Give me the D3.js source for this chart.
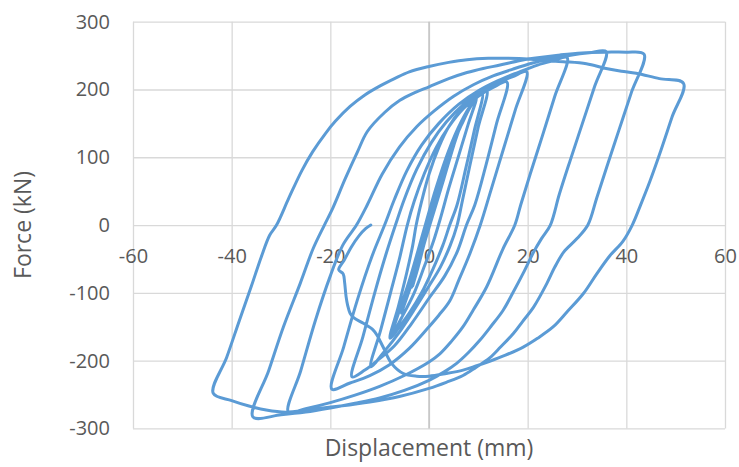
<!DOCTYPE html>
<html>
<head>
<meta charset="utf-8">
<script src="https://cdn.jsdelivr.net/npm/d3@7"></script>
<style>
  body { margin: 0; background: #fff; }
  svg text { font-family: "Open Sans", sans-serif; fill: #595959; }
</style>
</head>
<body>
<svg id="chart" width="739" height="467"></svg>
<script>
// ---------------------------
// Force - displacement hysteresis (cyclic test)
// ---------------------------

// tick values
const xTicks = [-60, -40, -20, 0, 20, 40, 60];
const yTicks = [-300, -200, -100, 0, 100, 200, 300];

// [displacement (mm), force (kN)], in test order
const smallCycles = [
  [0, 0], [1, 30], [2, 58], [3, 84], [4.2, 110], [3, 82], [1.5, 44], [0, 8], [-1, -25], [-2, -56], [-3.4, -92],
  [-2.2, -62], [-1, -28], [0.5, 15], [2, 55], [3.5, 92], [5, 124], [6.6, 152], [5, 117], [3, 68], [1, 20],
  [-0.5, -16], [-2, -52], [-3.6, -88], [-5.6, -130], [-4, -94], [-2.4, -54], [-1, -16], [0.6, 26], [2.6, 76],
  [4.6, 116], [6.6, 148], [8.2, 172], [9.6, 187], [8, 150], [6, 102], [4, 54], [2.4, 12], [0.9, -24], [-1, -62],
  [-3, -100], [-5.5, -136], [-7.6, -163], [-6, -126], [-4, -82], [-2.2, -37], [-0.6, 4], [1.4, 54], [4, 110],
  [6.5, 152], [8.8, 180], [10.8, 194]
];
const down11 = [[10.8, 194], [9.2, 140], [7.5, 85], [5.7, 30], [4.2, 0], [2.8, -30], [0.8, -65], [-1.5, -100], [-4, -130], [-6, -150], [-7.9, -167]];
const up12 = [[-7.9, -167], [-6.2, -120], [-4.5, -70], [-3.3, -30], [-2.6, 0], [-1.5, 35], [0, 75], [2, 115], [4, 145], [6.5, 170], [9, 187], [11.7, 199]];
const down12 = [[11.7, 199], [10, 145], [8.2, 85], [6.6, 30], [5.7, 0], [4.3, -30], [2.3, -62], [0, -90], [-3, -125], [-6, -158], [-9, -186], [-11.8, -209]];
const up16 = [[-11.8, -209], [-9.8, -155], [-7.8, -100], [-6, -50], [-4.4, 0], [-3, 35], [-1, 75], [1.5, 115], [4, 145], [7, 172], [10, 190], [13, 203], [15.8, 211]];
const down16 = [[15.8, 211], [13.7, 150], [11.6, 90], [9.3, 30], [7.6, 0], [5.8, -38], [3.2, -75], [0, -108], [-3.5, -145], [-7, -178], [-10.5, -200], [-13, -214], [-15.6, -224]];
const up20 = [[-15.6, -224], [-13.4, -165], [-11, -100], [-8.8, -45], [-6.8, 0], [-5, 38], [-2.5, 82], [0.5, 122], [3.5, 152], [7, 178], [10.5, 196], [14, 210], [17, 219], [19.8, 226]];
const down20 = [[19.8, 226], [17.5, 170], [15, 110], [12.5, 50], [10.4, 0], [8.3, -42], [6, -82], [4.2, -112], [2, -133], [0, -150], [-4, -182], [-8, -206], [-12, -222], [-16, -233], [-19.7, -242]];
const up28 = [[-19.7, -242], [-17.3, -180], [-14.5, -110], [-11.5, -45], [-9, 0], [-7, 38], [-4.5, 80], [-1.5, 118], [2, 150], [6, 178], [10, 198], [14, 213], [18, 225], [22, 236], [25, 242], [28, 247]];
const down28 = [[28, 247], [25.5, 190], [23, 132], [20.5, 75], [18.6, 30], [17.4, 0], [15, -35], [11.7, -91], [9, -125], [6.9, -150], [4.5, -172], [2.2, -190], [0, -202], [-5, -222], [-10, -238], [-15, -251], [-20, -262], [-25, -271], [-28.5, -276]];
const up36 = [[-28.5, -276], [-26, -215], [-23, -140], [-20, -75], [-17.5, -30], [-14.7, 0], [-12.5, 30], [-9.5, 75], [-6, 115], [-2.5, 145], [1, 168], [5, 190], [9, 207], [13, 220], [17, 230], [21, 239], [25, 246], [29, 251], [32.5, 254], [35.9, 256]];
const down36 = [[35.9, 256], [33.6, 205], [31.1, 150], [28.6, 95], [26.4, 45], [24.6, 0], [22.8, -20], [21.2, -40], [19.1, -71], [17, -100], [15, -126], [12.5, -150], [10.3, -170], [8, -188], [5.6, -204], [3, -217], [0, -229], [-5, -244], [-10, -255], [-15, -263], [-20, -270], [-25, -276], [-30, -280], [-35.7, -283]];
const up44 = [[-35.7, -283], [-32.5, -215], [-29.5, -150], [-26.1, -86], [-23.5, -35], [-21.2, 0], [-19.5, 25], [-17, 68], [-14.5, 108], [-12.5, 138], [-9, 166], [-5.9, 184], [-3, 195], [0, 204], [4, 216], [7.7, 225], [11, 231], [14.4, 236], [18, 242], [21.2, 246], [26.6, 251], [31, 254], [36, 255], [40, 255], [43.6, 252]];
const down44 = [[43.6, 252], [41, 195], [38.5, 140], [36, 85], [34, 40], [32.2, 0], [30, -20], [27.3, -40], [25.5, -62], [23.9, -86], [21.2, -121], [19, -142], [17.1, -160], [14.5, -180], [12.3, -196], [9.5, -210], [6.9, -222], [3.5, -232], [0, -241], [-6, -253], [-12, -261], [-18, -267], [-24, -272], [-29, -276], [-33, -273], [-36.5, -267], [-40, -259], [-43.75, -248]];
const up52 = [[-43.75, -248], [-41, -195], [-38.4, -140], [-36, -90], [-34, -47], [-32.3, -15], [-30.9, 0], [-28.4, 40], [-25.8, 80], [-23.6, 108], [-21, 135], [-19, 153], [-16, 175], [-13, 192], [-10, 205], [-7, 216], [-4, 226], [0, 234], [4, 240], [7.7, 244], [12, 246], [16, 246], [20, 245], [23, 243], [27.2, 241], [31.9, 238], [35.9, 231], [39, 227], [42, 224], [46.7, 216], [51.6, 209]];
const downFail = [[51.6, 209], [49.3, 160], [47, 110], [44.8, 65], [42.8, 28], [41.2, 0], [39.3, -24], [36.7, -45], [34, -72], [31.3, -101], [28, -128], [25.2, -150], [22, -167], [19.1, -180], [15.5, -192], [12.3, -201], [9.5, -208], [6.9, -214], [3.5, -219], [0, -223], [-2.5, -223], [-5.2, -219], [-7.6, -204], [-9.3, -180], [-10.5, -163], [-11.3, -155], [-13.3, -145], [-15.2, -137], [-16, -130], [-16.5, -118], [-16.8, -106], [-17.1, -85], [-17.4, -72], [-18.3, -66]];
const unloadEnd = [[-18.3, -66], [-17.2, -52], [-15.8, -33], [-14.2, -16], [-12.8, -5], [-11.8, 0]];

const branches = [smallCycles, down11, up12, down12, up16, down16, up20, down20, up28, down28,
  up36, down36, up44, down44, up52, downFail, unloadEnd];

// join branches, dropping the shared point at each joint
const points = [];
branches.forEach(b => {
  b.forEach((p, i) => {
    const last = points[points.length - 1];
    if (i === 0 && last && last[0] === p[0] && last[1] === p[1]) return;
    points.push(p);
  });
});

// plot area
const plotLeft = 133, plotRight = 725, plotTop = 21.7, plotBottom = 428.4;

const svg = d3.select("#chart");

const x = d3.scaleLinear().domain([-60, 60]).range([plotLeft, plotRight]);
const y = d3.scaleLinear().domain([-300, 300]).range([plotBottom, plotTop]);

// plain hyphen for negatives, like the original
const fmt = d => String(d);

// vertical gridlines
svg.append("g")
  .attr("transform", `translate(0,${plotBottom})`)
  .call(d3.axisBottom(x).tickValues(xTicks).tickSize(-(plotBottom - plotTop)).tickFormat(""))
  .call(g => g.select(".domain").remove())
  .call(g => g.selectAll(".tick line").attr("stroke", "#d9d9d9").attr("stroke-width", 1.3));

// horizontal gridlines + y labels
svg.append("g")
  .attr("transform", `translate(${plotLeft},0)`)
  .call(d3.axisLeft(y).tickValues(yTicks).tickFormat(fmt).tickSize(-(plotRight - plotLeft)).tickPadding(23))
  .call(g => g.select(".domain").remove())
  .call(g => g.selectAll(".tick line").attr("stroke", "#d9d9d9").attr("stroke-width", 1.3))
  .call(g => g.selectAll(".tick text").attr("font-size", 20).attr("font-family", null).attr("fill", "#595959"));

// vertical axis line at x = 0
svg.append("line")
  .attr("x1", x(0)).attr("x2", x(0))
  .attr("y1", y(300)).attr("y2", y(-300))
  .attr("stroke", "#bfbfbf")
  .attr("stroke-width", 1.3);

// x labels hang below the zero line
svg.append("g")
  .attr("transform", `translate(0,${y(0)})`)
  .call(d3.axisBottom(x).tickValues(xTicks).tickFormat(fmt).tickSize(0).tickPadding(24))
  .call(g => g.select(".domain").remove())
  .call(g => g.selectAll(".tick text").attr("font-size", 20).attr("font-family", null).attr("fill", "#595959"));

// hysteresis curve
const line = d3.line()
  .x(d => x(d[0]))
  .y(d => y(d[1]))
  .curve(d3.curveCatmullRom.alpha(0.5));

svg.append("path")
  .datum(points)
  .attr("d", line)
  .attr("fill", "none")
  .attr("stroke", "#5b9bd5")
  .attr("stroke-width", 3)
  .attr("stroke-linejoin", "round")
  .attr("stroke-linecap", "round");

// axis titles
svg.append("text")
  .attr("x", (plotLeft + plotRight) / 2)
  .attr("y", 456)
  .attr("text-anchor", "middle")
  .attr("font-size", 23)
  .text("Displacement (mm)");

svg.append("text")
  .attr("transform", "translate(31,225) rotate(-90)")
  .attr("text-anchor", "middle")
  .attr("font-size", 23)
  .text("Force (kN)");
</script>
</body>
</html>
